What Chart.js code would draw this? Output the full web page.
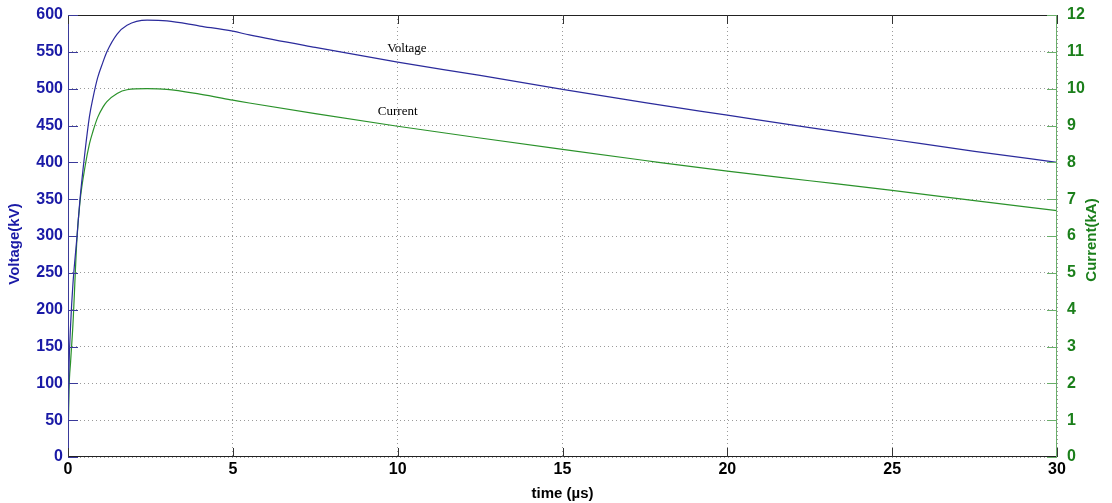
<!DOCTYPE html>
<html>
<head>
<meta charset="utf-8">
<script src="https://cdn.jsdelivr.net/npm/chart.js@4"></script>
<style>
  html, body { margin: 0; padding: 0; background: #fff; }
  #wrap { width: 1112px; height: 503px; }
</style>
</head>
<body>
<div id="wrap"><canvas id="myChart" width="1112" height="503"></canvas></div>
<script>
// values
const timeUs = [0, 0.01, 0.03, 0.08, 0.15, 0.27, 0.36, 0.52, 0.65, 0.76, 0.9, 1.06, 1.18, 1.49, 1.79, 2.4, 3.0, 4.0, 5, 5.5, 7.5, 10, 12.5, 15, 17.5, 20, 22.5, 25, 27.5, 30]
const voltageKV = [0, 60, 120, 180, 235, 298, 348, 416, 462, 488, 515, 536, 550, 574, 586, 593, 592, 585, 578, 573, 556, 536, 518, 499, 481, 464, 447, 431, 415, 400]
const currentKA = [0, 0.8, 1.8, 2.6, 3.6, 5.9, 6.9, 7.9, 8.5, 8.85, 9.22, 9.5, 9.65, 9.87, 9.97, 10.0, 9.98, 9.85, 9.69, 9.61, 9.32, 8.98, 8.66, 8.35, 8.05, 7.76, 7.5, 7.24, 6.96, 6.69]
const xTicks = [0, 5, 10, 15, 20, 25, 30]

const blue = '#1a1aa6'
const green = '#1b7f1b'

const toPoints = (ys) => timeUs.map((t, i) => ({ x: t, y: ys[i] }))

// text labels on the plot, axis titles, border and inward ticks (matlab look)
const decor = {
  id: 'decor',
  afterDatasetsDraw(chart) {
    const c = chart.ctx
    const a = chart.chartArea
    const x = chart.scales.x, yl = chart.scales.y, yr = chart.scales.y2
    c.save()
    c.font = '13px "Liberation Serif", "DejaVu Serif", serif'
    c.fillStyle = '#000'
    c.textAlign = 'center'
    c.textBaseline = 'middle'
    c.fillText('Voltage', x.getPixelForValue(10.28), yl.getPixelForValue(555))
    c.fillText('Current', x.getPixelForValue(10.0), yr.getPixelForValue(9.39))

    // frame
    c.lineWidth = 1
    c.strokeStyle = '#222'
    c.beginPath()
    c.moveTo(a.left, a.top + 0.5); c.lineTo(a.right, a.top + 0.5)
    c.moveTo(a.left, a.bottom - 0.5); c.lineTo(a.right, a.bottom - 0.5)
    c.stroke()
    c.strokeStyle = '#3a3a9a'
    c.beginPath(); c.moveTo(a.left + 0.5, a.top); c.lineTo(a.left + 0.5, a.bottom); c.stroke()
    c.strokeStyle = '#6aae6a'
    c.beginPath(); c.moveTo(a.right - 0.5, a.top); c.lineTo(a.right - 0.5, a.bottom); c.stroke()

    // inward ticks
    c.strokeStyle = '#333'
    xTicks.forEach(v => {
      const px = Math.round(x.getPixelForValue(v)) + 0.5
      c.beginPath(); c.moveTo(px, a.bottom); c.lineTo(px, a.bottom - 9)
      c.moveTo(px, a.top); c.lineTo(px, a.top + 9); c.stroke()
    })
    c.strokeStyle = '#3a3a9a'
    for (let v = 0; v <= 600; v += 50) {
      const py = Math.round(yl.getPixelForValue(v)) + 0.5
      c.beginPath(); c.moveTo(a.left, py); c.lineTo(a.left + 10, py); c.stroke()
    }
    c.strokeStyle = '#6aae6a'
    for (let v = 0; v <= 12; v += 1) {
      const py = Math.round(yr.getPixelForValue(v)) + 0.5
      c.beginPath(); c.moveTo(a.right, py); c.lineTo(a.right - 10, py); c.stroke()
    }

    // axis titles, both read bottom to top
    c.font = 'bold 15px "Liberation Sans", Arial, sans-serif'
    const midY = (a.top + a.bottom) / 2
    c.fillStyle = blue
    c.translate(15, midY + 8)
    c.rotate(-Math.PI / 2)
    c.fillText('Voltage(kV)', 0, 0)
    c.setTransform(1, 0, 0, 1, 0, 0)
    c.fillStyle = green
    c.translate(1092, midY + 4)
    c.rotate(-Math.PI / 2)
    c.fillText('Current(kA)', 0, 0)
    c.restore()
  }
}

const data = {
  datasets: [{
    label: 'Voltage',
    data: toPoints(voltageKV),
    borderColor: '#2b2b9c',
    borderWidth: 1.2,
    pointRadius: 0,
    cubicInterpolationMode: 'monotone',
    yAxisID: 'y',
  }, {
    label: 'Current',
    data: toPoints(currentKA),
    borderColor: '#2a922a',
    borderWidth: 1.2,
    pointRadius: 0,
    cubicInterpolationMode: 'monotone',
    yAxisID: 'y2',
  }]
}

const gridDots = {
  color: '#9a9a9a',
  lineWidth: 1,
  drawTicks: false,
}
const noBorder = { display: false, dash: [1, 3] }
const tickFont = { family: '"Liberation Sans", Arial, sans-serif', size: 16, weight: 'bold' }

const config = {
  type: 'line',
  data: data,
  options: {
    responsive: false,
    animation: false,
    layout: { padding: { top: 15, left: 0, right: 0, bottom: 0 } },
    plugins: {
      legend: { display: false },
      tooltip: { enabled: false },
    },
    scales: {
      x: {
        type: 'linear',
        min: 0,
        max: 30,
        afterBuildTicks: (s) => { s.ticks = xTicks.map(v => ({ value: v })) },
        afterFit: (s) => { s.height = 46 },
        grid: gridDots,
        border: noBorder,
        ticks: {
          color: '#000',
          padding: 3,
          maxRotation: 0,
          font: tickFont,
        },
        title: {
          display: true,
          text: 'time (\u00b5s)',
          color: '#000',
          padding: { top: 0, bottom: 0 },
          font: { family: '"Liberation Sans", Arial, sans-serif', size: 15, weight: 'bold' },
        },
      },
      y: {
        position: 'left',
        min: 0,
        max: 600,
        afterFit: (s) => { s.width = 68 },
        grid: gridDots,
        border: noBorder,
        ticks: {
          stepSize: 50,
          color: blue,
          padding: 5,
          font: tickFont,
        },
      },
      y2: {
        position: 'right',
        min: 0,
        max: 12,
        afterFit: (s) => { s.width = 55 },
        grid: { display: false },
        border: { display: false },
        ticks: {
          stepSize: 1,
          color: green,
          padding: 2,
          font: tickFont,
        },
      },
    },
  },
  plugins: [decor],
}

const myChart = new Chart(document.getElementById('myChart'), config)
</script>
</body>
</html>
